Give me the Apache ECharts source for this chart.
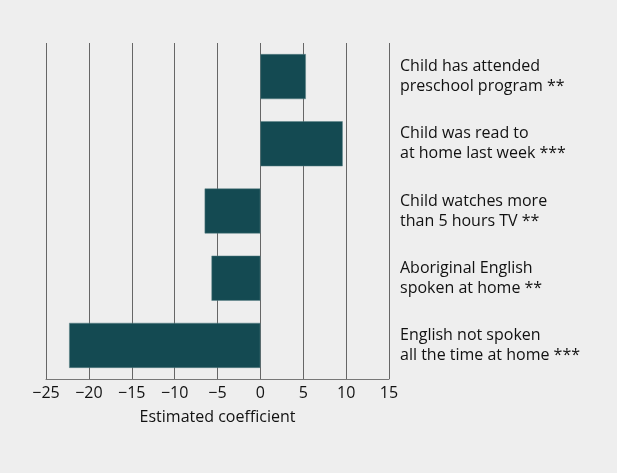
<!DOCTYPE html>
<html><head><meta charset="utf-8">
<script src="https://cdn.jsdelivr.net/npm/echarts@6/dist/echarts.min.js"></script>
<style>html,body{margin:0;padding:0;background:#eeeeee}#c{width:617px;height:473px}</style>
</head><body><div id="c"></div>
<script>
const categories = [
  "Child has attended\npreschool program **",
  "Child was read to\nat home last week ***",
  "Child watches more\nthan 5 hours TV **",
  "Aboriginal English\nspoken at home **",
  "English not spoken\nall the time at home ***"
];
const values = [5.3, 9.6, -6.5, -5.7, -22.3];
const xMin = -25, xMax = 15, xStep = 5;
const xName = "Estimated coefficient";

const font = "'Open Sans', sans-serif";
const chart = echarts.init(document.getElementById('c'));
chart.setOption({
  backgroundColor: '#eeeeee',
  animation: false,
  grid: {left: 46, right: 228, top: 43, bottom: 94},
  xAxis: {
    type: 'value', min: xMin, max: xMax, interval: xStep,
    name: xName, nameLocation: 'middle', nameGap: 30,
    nameTextStyle: {color: '#111', fontSize: 16, fontFamily: font},
    axisLine: {show: true, lineStyle: {color: '#777', width: 1}},
    axisTick: {show: false},
    splitLine: {show: true, lineStyle: {color: '#666', width: 1}},
    axisLabel: {color: '#111', fontSize: 16, fontFamily: font, margin: 6,
      formatter: v => String(v).replace('-', '\u2212')}
  },
  yAxis: {
    type: 'category', data: categories, inverse: true, position: 'right',
    axisLine: {show: false}, axisTick: {show: false},
    axisLabel: {color: '#111', fontSize: 16, fontFamily: font, align: 'left', margin: 11, lineHeight: 20}
  },
  series: [{
    type: 'bar', data: values, barWidth: '67%',
    itemStyle: {color: '#144a52', borderColor: '#5b8086', borderWidth: 0.5}
  }]
});
</script></body></html>
